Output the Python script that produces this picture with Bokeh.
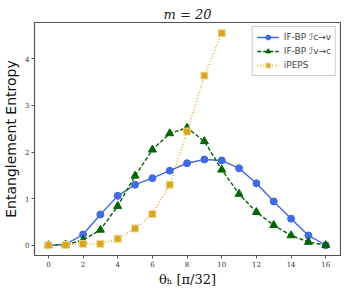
from bokeh.plotting import figure
from bokeh.embed import file_html
from bokeh.resources import INLINE
from bokeh.models import Range1d, Legend, LegendItem, FixedTicker

theta = list(range(17))
ifbp_cv = [0.0, 0.02, 0.23, 0.66, 1.06, 1.30, 1.44, 1.60, 1.76, 1.84, 1.82, 1.65, 1.33, 0.94, 0.57, 0.21, 0.0]
ifbp_vc = [0.0, 0.01, 0.11, 0.33, 0.84, 1.49, 2.05, 2.40, 2.52, 2.23, 1.62, 1.10, 0.71, 0.43, 0.21, 0.07, 0.0]
theta_ipeps = list(range(11))
ipeps = [0.0, 0.005, 0.03, 0.03, 0.14, 0.36, 0.67, 1.30, 2.44, 3.64, 4.55]

x_ticks = [0, 2, 4, 6, 8, 10, 12, 14, 16]
y_ticks = [0, 1, 2, 3, 4]

p = figure(width=341, height=289, output_backend="svg", toolbar_location=None,
           x_range=Range1d(-0.8, 16.85), y_range=Range1d(-0.22, 4.78),
           min_border_left=28, min_border_right=1, min_border_top=22, min_border_bottom=33)

p.title.text = "m = 20"
p.title.align = "center"
p.title.text_font = "DejaVu Serif"
p.title.text_font_style = "italic"
p.title.text_font_size = "13px"
p.title.text_color = "#222222"
p.title.standoff = 2

p.grid.visible = False
p.outline_line_color = "#555555"
p.outline_line_width = 1.2

for ax in (p.xaxis, p.yaxis):
    ax.axis_line_color = "#555555"
    ax.major_tick_line_color = "#555555"
    ax.minor_tick_line_color = None
    ax.major_tick_in = 0
    ax.major_tick_out = 3
    ax.major_label_standoff = 2
    ax.major_label_text_font = "DejaVu Serif"
    ax.major_label_text_font_size = "7px"
    ax.major_label_text_color = "#333333"
    ax.axis_label_text_color = "#111111"
    ax.axis_label_text_font_style = "normal"

p.xaxis.ticker = FixedTicker(ticks=x_ticks)
p.yaxis.ticker = FixedTicker(ticks=y_ticks)
p.xaxis.axis_label = "θₕ [π/32]"
p.xaxis.axis_label_text_font = "DejaVu Serif"
p.xaxis.axis_label_text_font_size = "13px"
p.xaxis.axis_label_standoff = 2
p.yaxis.axis_label = "Entanglement Entropy"
p.yaxis.axis_label_text_font = "DejaVu Sans"
p.yaxis.axis_label_text_font_size = "14px"
p.yaxis.axis_label_standoff = 3

blue = "#4169E1"
green = "#006400"
gold = "#DAA520"

l1 = p.line(theta, ifbp_cv, color=blue, line_width=1.4)
m1 = p.scatter(theta, ifbp_cv, marker="circle", size=7, fill_color=blue, line_color=blue)
l2 = p.line(theta, ifbp_vc, color=green, line_width=1.4, line_dash="4 2")
m2 = p.scatter(theta, ifbp_vc, marker="triangle", size=8, fill_color=green, line_color=green)
l3 = p.line(theta_ipeps, ipeps, color=gold, line_width=1.4, line_dash="1 2")
m3 = p.scatter(theta_ipeps, ipeps, marker="square", size=7, fill_color=gold, line_color="#f0d890")

legend = Legend(items=[
    LegendItem(label="IF-BP ℐc→v", renderers=[l1, m1]),
    LegendItem(label="IF-BP ℐv→c", renderers=[l2, m2]),
    LegendItem(label="iPEPS", renderers=[l3, m3]),
], location="top_right")
legend.label_text_font = "DejaVu Sans"
legend.label_text_font_size = "9px"
legend.label_height = 12
legend.glyph_height = 12
legend.glyph_width = 22
legend.spacing = 2
legend.padding = 4
legend.margin = 4
legend.border_line_color = "#cccccc"
legend.border_line_alpha = 1
legend.background_fill_alpha = 0.9
p.add_layout(legend)

open("out.html", "w").write(file_html(p, INLINE))
